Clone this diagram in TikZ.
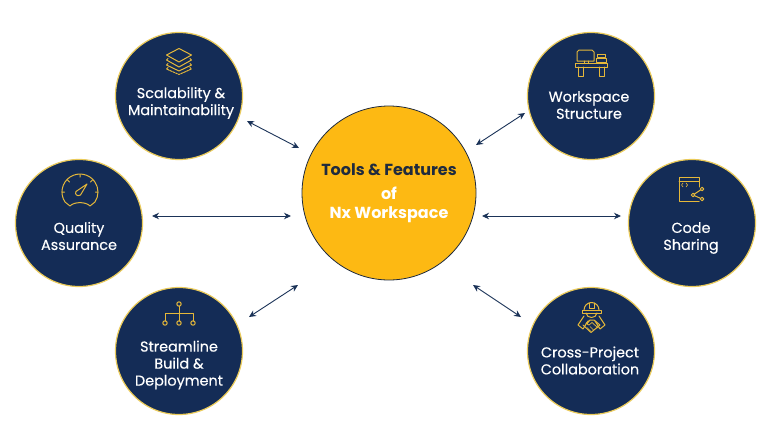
\documentclass[tikz,border=0pt]{standalone}
\usepackage{fontspec}
\setmainfont{Poppins}[FakeBold=0.25]
\newfontfamily\hubfont{Poppins}[BoldFont={Poppins Bold}]
\usetikzlibrary{arrows.meta}
\definecolor{navy}{HTML}{142C56}
\definecolor{gold}{HTML}{FDB913}
\definecolor{rimgold}{HTML}{EBCB5A}
\definecolor{icongold}{HTML}{E5B83A}
\definecolor{darktext}{HTML}{1F2B3E}
\definecolor{arrowblue}{HTML}{1B3358}
\tikzset{
  x=1pt,y=-1pt,
  topic/.style={circle,draw=rimgold,fill=navy,line width=1.2pt,minimum size=127pt,inner sep=0pt},
  hub/.style={circle,draw=darktext,fill=gold,line width=.8pt,minimum size=174pt,inner sep=0pt},
  topictext/.style={text=white,align=center,inner sep=0pt,font=\fontsize{14.4}{17}\selectfont},
  hubtext/.style={align=center,inner sep=0pt,font=\hubfont\fontsize{16}{16}\selectfont\bfseries},
  link/.style={arrowblue,line width=.9pt,{Stealth[length=7pt,width=6.5pt]}-{Stealth[length=7pt,width=6.5pt]}},
  icon/.style={icongold,line width=1pt,line join=round,line cap=round},
}
\begin{document}
\begin{tikzpicture}
\useasboundingbox (0,0) rectangle (770,447);
\fill[white] (0,0) rectangle (770,447);
% circles
\node[hub] (hub) at (389,193) {};
\node[topic] (sc) at (179,96) {};
\node[topic] (ws) at (591,96) {};
\node[topic] (qa) at (79,223) {};
\node[topic] (cs) at (692,223) {};
\node[topic] (sb) at (179,351) {};
\node[topic] (cp) at (591,351) {};
% texts
\node[hubtext,text=darktext] (t1) at (389,169.5) {Tools \& Features};
\node[hubtext,text=white] (t2) at (389,193) {of};
\node[hubtext,text=white] (t3) at (389,215) {Nx Workspace};
\node[topictext] (lsc) at (181,103) {Scalability \&\\Maintainability};
\node[topictext] (lws) at (589,105) {Workspace\\Structure};
\node[topictext] (lqa) at (79,236) {Quality\\Assurance};
\node[topictext] (lcs) at (691,238) {Code\\Sharing};
\node[topictext] (lsb) at (179,365) {Streamline\\Build \&\\Deployment};
\node[topictext] (lcp) at (590,360.5) {Cross-Project\\Collaboration};
% connector ends
\coordinate (a1) at (247,121); \coordinate (b1) at (299,148);
\coordinate (a2) at (525,113); \coordinate (b2) at (476,145);
\coordinate (a3) at (152,216); \coordinate (b3) at (291,216);
\coordinate (a4) at (621,216); \coordinate (b4) at (482,216);
\coordinate (a5) at (249,317); \coordinate (b5) at (298,285);
\coordinate (a6) at (521,317); \coordinate (b6) at (473,285);
\foreach \n in {1,...,6} \draw[link] (a\n) -- (b\n);
% layers icon
\draw[icon] (179,48.5) -- (191.5,55) -- (179,62) -- (166.5,55) -- cycle;
\draw[icon] (168,58.5) -- (166.5,60) -- (179,67) -- (191.5,60) -- (190,58.5);
\draw[icon] (168,63.5) -- (166.5,65) -- (179,71) -- (191.5,65) -- (190,63.5);
\draw[icon,dash pattern=on 2pt off 1pt] (168,67.5) -- (166.5,69) -- (179,74.5) -- (191.5,69) -- (190,67.5);
% desk icon
\draw[icon] (575,63) rectangle (607,67);
\draw[icon] (578.5,67) -- (578.5,76) -- (583,76) -- (583,67);
\draw[icon] (599.5,67) -- (599.5,76) -- (604,76) -- (604,67);
\draw[icon] (577,61) -- (577,52) -- (579,50) -- (592,50) -- (594,52) -- (594,61) -- cycle;
\draw[icon] (584,61) -- (584,63) (588,61) -- (588,63);
\draw[icon] (597,54) -- (605,54) -- (605,57.5) -- (597,57.5) -- cycle;
\draw[icon] (596,58) -- (606,58) -- (606,62.5) -- (596,62.5) -- cycle;
% gauge icon
\draw[icon] (65,202) arc[start angle=146.3,end angle=393.7,radius=18] -- (90,206) .. controls (86,201.5) and (74,201.5) .. (70,206) -- cycle;
\draw[icon] (80,174.5) -- (80,177) (67.5,180) -- (69.5,182) (92.5,180) -- (90.5,182) (62,192) -- (64.5,192) (98,192) -- (95.5,192);
\draw[icon] (87,184) -- (80.5,195) .. controls (77,197) and (74.5,194) .. (76,191.5) -- cycle;
% code icon
\draw[icon] (699,187) -- (699,177) -- (679,177) -- (679,201) -- (699,201);
\draw[icon] (679,181) -- (699,181);
\draw[icon,line width=.6pt] (683,183) .. controls (681.5,183) and (683,185) .. (681.5,185) .. controls (683,185) and (681.5,187) .. (683,187);
\draw[icon,line width=.6pt] (686,183) .. controls (687.5,183) and (686,185) .. (687.5,185) .. controls (686,185) and (687.5,187) .. (686,187);
\draw[icon] (702,189) -- (693,195) -- (702,199);
\draw[icon,fill=navy] (702,189) circle (1.8) (693,195) circle (1.8) (702,199) circle (1.8);
% tree icon
\draw[icon] (179,306) -- (179,321) (165,321) -- (165,313) -- (193,313) -- (193,321);
\draw[icon] (179,304) circle (2.2) (165,323) circle (2.2) (179,323) circle (2.2) (193,323) circle (2.2);
% helmet and handshake icon
\draw[icon] (584,310) arc[start angle=180,end angle=360,radius=7.5];
\draw[icon] (589,303) -- (589,308) -- (594,308) -- (594,303);
\draw[icon] (582,310) rectangle (601,313);
\draw[icon] (586,313) .. controls (587,319) and (596,319) .. (597,313);
\draw[icon] (584,316) -- (578,325) -- (583,329) -- (588,321);
\draw[icon] (599,316) -- (605,325) -- (600,329) -- (595,321);
\draw[icon] (583,325) -- (591,332.5) -- (600,325) -- (594,320) -- (590,320) -- (586,323.5);
\draw[icon,line width=.7pt] (590,320) -- (587,324) -- (589,325) -- (592,322.5) -- (598,328) (590.5,331) -- (587,327.5) (593.5,330) -- (590,326.5);
\end{tikzpicture}
\end{document}
